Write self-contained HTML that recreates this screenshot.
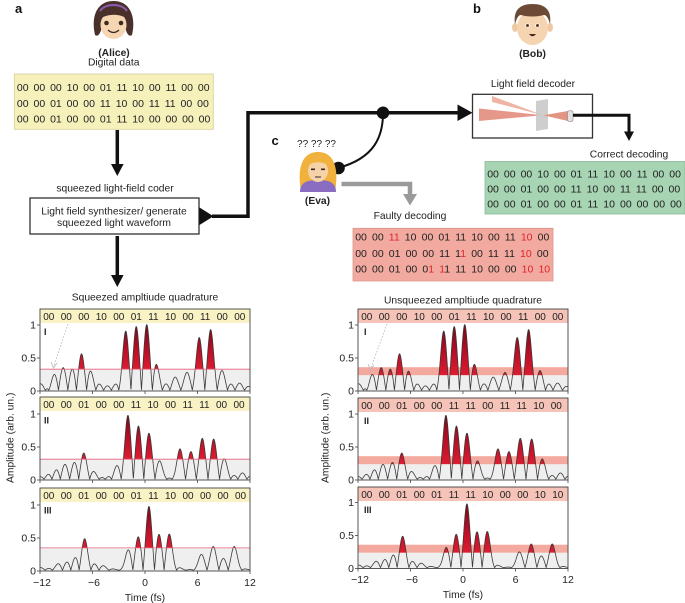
<!DOCTYPE html>
<html><head><meta charset="utf-8">
<style>
html,body{margin:0;padding:0;background:#fff;}
svg{display:block;font-family:"Liberation Sans",Arial,sans-serif;}
.t{font-size:10.3px;fill:#222;}
.d{font-size:10.5px;fill:#222;}
.s{font-size:10px;fill:#222;word-spacing:3.6px;}
.tk{font-size:10.5px;fill:#222;}
.b{font-weight:bold;}
</style></head>
<body>
<svg id="fig" width="685" height="603" viewBox="0 0 685 603" xmlns="http://www.w3.org/2000/svg">
<rect width="685" height="603" fill="#fff"/>

<!-- panel labels -->
<text x="15" y="13" font-size="13" font-weight="bold" fill="#111">a</text>
<text x="473" y="13" font-size="13" font-weight="bold" fill="#111">b</text>
<text x="271.5" y="145" font-size="13" font-weight="bold" fill="#111">c</text>

<!-- Alice -->
<path d="M95,35 C91,18 96,1 113.5,1 C131,1 136,18 132,35 C128,38 125,30 125,24 L102,24 C102,30 99,38 95,35Z" fill="#4a302a"/>
<ellipse cx="113.5" cy="25" rx="13" ry="14" fill="#f6d5b2"/>
<path d="M99,20 C100,8 127,8 128,20 C122,13 106,13 99,20Z" fill="#4a302a"/>
<path d="M100,11 C105,3 122,3 127,11" stroke="#8a5db0" stroke-width="2" fill="none"/>
<circle cx="106.5" cy="23" r="2.3" fill="#3a2a20"/>
<circle cx="121" cy="23" r="2.3" fill="#3a2a20"/>
<path d="M108,30 Q113.5,35 119,30" stroke="#3a2a20" stroke-width="1.3" fill="none"/>
<text x="114" y="56" class="t b" text-anchor="middle">(Alice)</text>
<text x="113.7" y="65.5" class="t" text-anchor="middle">Digital data</text>

<!-- Alice data box -->
<rect x="14.3" y="74" width="199" height="55.3" fill="#f6f0bb" stroke="#d6cf9a" stroke-width="0.8"/>
<text x="16.9" y="91" class="d" style="word-spacing:2px">00 00 00 10 00 01 11 10 00 11 00 00</text>
<text x="16.9" y="107" class="d" style="word-spacing:2px">00 00 01 00 00 11 10 00 11 11 00 00</text>
<text x="16.9" y="122.7" class="d" style="word-spacing:2px">00 00 01 00 00 01 11 10 00 00 00 00</text>

<!-- arrow down 1 -->
<line x1="117.3" y1="130" x2="117.3" y2="166" stroke="#111" stroke-width="3.5"/>
<polygon points="111,164 123.6,164 117.3,176" fill="#111"/>
<text x="115" y="191.5" class="t" text-anchor="middle">squeezed light-field coder</text>

<!-- coder box -->
<rect x="30" y="198" width="169" height="36" fill="#fff" stroke="#222" stroke-width="1.2"/>
<text x="114" y="214.5" class="t" text-anchor="middle">Light field synthesizer/ generate</text>
<text x="114" y="225.8" class="t" text-anchor="middle">squeezed light waveform</text>
<polygon points="199.5,207.5 199.5,225 213.5,216.2" fill="#111"/>

<!-- arrow down 2 -->
<line x1="117.3" y1="236" x2="117.3" y2="277" stroke="#111" stroke-width="3.5"/>
<polygon points="111,275 123.6,275 117.3,287" fill="#111"/>

<!-- main line -->
<path d="M212,216.2 L248,216.2 L248,112.8 L460,112.8" stroke="#111" stroke-width="3.5" fill="none" stroke-linejoin="miter"/>
<polygon points="457.5,104.5 472.5,112.8 457.5,121" fill="#111"/>
<path d="M383,113 C383,136 375,158 338,168" stroke="#111" stroke-width="2" fill="none"/>
<circle cx="383" cy="112.8" r="6.3" fill="#111"/>
<circle cx="338.5" cy="168" r="6.3" fill="#111"/>

<!-- Eva -->
<text x="316.5" y="147" font-size="10" fill="#222" text-anchor="middle">?? ?? ??</text>
<path d="M300.5,188 C298,172 300,152 318,152 C336,152 338,172 335.5,188Z" fill="#f0b23c"/>
<path d="M300,192 C300,183 306,180 318,180 C330,180 336,183 336,192Z" fill="#8a6cc0"/>
<ellipse cx="318" cy="171" rx="10" ry="11" fill="#f6d2a8"/>
<path d="M307,166 C309,157 327,157 329,166 C323,161 313,161 307,166Z" fill="#f0b23c"/>
<rect x="311" y="168.5" width="4" height="1.6" fill="#3a2a20"/>
<rect x="321" y="168.5" width="4" height="1.6" fill="#3a2a20"/>
<line x1="315" y1="177" x2="321" y2="177" stroke="#3a2a20" stroke-width="1"/>
<text x="317.5" y="204" class="t b" text-anchor="middle">(Eva)</text>

<!-- gray arrow -->
<path d="M341.5,184 L410,184 L410,196" stroke="#9a9a9a" stroke-width="4.5" fill="none"/>
<polygon points="403,194 417,194 410,205.5" fill="#9a9a9a"/>
<text x="410" y="219" class="t" text-anchor="middle">Faulty decoding</text>

<!-- faulty box -->
<rect x="353" y="228.3" width="200" height="52.7" fill="#f2aaa0" stroke="#d9958b" stroke-width="0.8"/>
<text x="355.2" y="240.6" class="d" style="word-spacing:2.2px">00 00 <tspan fill="#e0232e">11</tspan> 10 00 01 11 10 00 11 <tspan fill="#e0232e">10</tspan> 00</text>
<text x="355.2" y="257" class="d" style="word-spacing:2.2px">00 00 01 00 00 11 1<tspan fill="#e0232e">1</tspan> 00 11 11 <tspan fill="#e0232e">10</tspan> 00</text>
<text x="355.2" y="272.7" class="d" style="word-spacing:2.2px">00 00 01 00 0<tspan fill="#e0232e">1</tspan> <tspan fill="#e0232e">1</tspan>1 11 10 00 00 <tspan fill="#e0232e">10</tspan> <tspan fill="#e0232e">10</tspan></text>

<!-- Bob -->
<ellipse cx="515" cy="27.5" rx="3" ry="4.5" fill="#eec9a3"/>
<ellipse cx="550" cy="27.5" rx="3" ry="4.5" fill="#eec9a3"/>
<ellipse cx="532.5" cy="28" rx="15.5" ry="17" fill="#f4d4b1"/>
<path d="M515,24 C513,10 520,4 532.5,4 C545,4 552,10 550,24 C548,17 546,15 544,15 C537,17 527,17 521,15 C519,15 517,17 515,24Z" fill="#6d4a35"/>
<ellipse cx="527.5" cy="25.5" rx="2.4" ry="2" fill="#fff"/>
<ellipse cx="537.5" cy="25.5" rx="2.4" ry="2" fill="#fff"/>
<circle cx="527.5" cy="25.5" r="1.5" fill="#5a3a24"/>
<circle cx="537.5" cy="25.5" r="1.5" fill="#5a3a24"/>
<path d="M529,34 Q532.5,38.5 536,34Z" fill="#4a2a20"/>
<text x="532.5" y="57" class="t b" text-anchor="middle">(Bob)</text>

<!-- decoder -->
<text x="533" y="87" class="t" text-anchor="middle">Light field decoder</text>
<rect x="472.5" y="94.3" width="120" height="43.7" fill="#fff" stroke="#333" stroke-width="1.3"/>
<polygon points="492,96 492,102 543,115.2" fill="#eeb5a5"/>
<polygon points="479,108.5 479,121 543,115.2" fill="#e5988a"/>
<polygon points="536,101 548,99 548,129 536,131" fill="#c6c6c6" opacity="0.85"/>
<polygon points="543,115.2 568,111 568,121" fill="#e39482"/>
<rect x="567.5" y="110.8" width="5.5" height="10.5" rx="1.5" fill="#e2e2e2" stroke="#888" stroke-width="0.6"/>
<path d="M573,115.2 L629,115.2 L629,133" stroke="#111" stroke-width="3" fill="none"/>
<polygon points="624,131.5 634,131.5 629,141" fill="#111"/>
<text x="629" y="157.5" class="t" text-anchor="middle">Correct decoding</text>

<!-- green box -->
<rect x="485" y="161.5" width="200" height="52.5" fill="#a7d4b3" stroke="#88b996" stroke-width="0.8"/>
<text x="487.2" y="177.6" class="d" style="word-spacing:2.1px">00 00 00 10 00 01 11 10 00 11 00 00</text>
<text x="487.2" y="192.5" class="d" style="word-spacing:2.1px">00 00 01 00 00 11 10 00 11 11 00 00</text>
<text x="487.2" y="207.6" class="d" style="word-spacing:2.1px">00 00 01 00 00 01 11 10 00 00 00 00</text>

<!-- plot titles -->
<text x="145" y="300.4" class="t" text-anchor="middle">Squeezed ampltiude quadrature</text>
<text x="463" y="303.5" class="t" text-anchor="middle">Unsqueezed ampltiude quadrature</text>

<!-- ===== backgrounds ===== -->
<rect x="40" y="309" width="210" height="82" fill="#fff"/>
<rect x="40" y="369.2" width="210" height="21.8" fill="#efefef"/>
<rect x="40" y="397" width="210" height="83" fill="#fff"/>
<rect x="40" y="459.2" width="210" height="20.8" fill="#efefef"/>
<rect x="40" y="488" width="210" height="83" fill="#fff"/>
<rect x="40" y="547.9" width="210" height="23.1" fill="#efefef"/>
<rect x="358" y="309" width="210" height="82" fill="#fff"/>
<rect x="358" y="375.2" width="210" height="15.8" fill="#efefef"/>
<rect x="358" y="367.2" width="210" height="8" fill="#f4a99e"/>
<rect x="358" y="398" width="210" height="82" fill="#fff"/>
<rect x="358" y="464.2" width="210" height="15.8" fill="#efefef"/>
<rect x="358" y="456.2" width="210" height="8" fill="#f4a99e"/>
<rect x="358" y="487" width="210" height="81.5" fill="#fff"/>
<rect x="358" y="552.7" width="210" height="15.8" fill="#efefef"/>
<rect x="358" y="544.7" width="210" height="8" fill="#f4a99e"/>

<g id="plots"></g>

<!-- threshold lines left -->
<line x1="40" y1="369.2" x2="250" y2="369.2" stroke="#e8607a" stroke-width="0.8"/>
<line x1="40" y1="459.2" x2="250" y2="459.2" stroke="#e8607a" stroke-width="0.8"/>
<line x1="40" y1="547.9" x2="250" y2="547.9" stroke="#e8607a" stroke-width="0.8"/>

<!-- strips left -->
<rect x="40" y="309" width="210" height="14" fill="#f8f2c4"/>
<rect x="40" y="397" width="210" height="14" fill="#f8f2c4"/>
<rect x="40" y="488" width="210" height="14" fill="#f8f2c4"/>
<text x="43.2" y="320" class="s">00 00 00 10 00 01 11 10 00 11 00 00</text>
<text x="43.2" y="408" class="s">00 00 01 00 00 11 10 00 11 11 00 00</text>
<text x="43.2" y="499" class="s">00 00 01 00 00 01 11 10 00 00 00 00</text>
<!-- strips right -->
<rect x="358" y="309" width="210" height="14" fill="#f5c3b8"/>
<rect x="358" y="398" width="210" height="14" fill="#f5c3b8"/>
<rect x="358" y="487" width="210" height="14" fill="#f5c3b8"/>
<text x="361.2" y="320" class="s">00 00 00 10 00 01 11 10 00 11 00 00</text>
<text x="361.2" y="409" class="s">00 00 01 00 00 11 11 00 11 11 10 00</text>
<text x="361.2" y="498" class="s">00 00 01 00 01 11 11 10 00 00 10 10</text>

<!-- frames -->
<g fill="none" stroke="#444" stroke-width="0.9">
<rect x="40" y="309" width="210" height="82"/>
<rect x="40" y="397" width="210" height="83"/>
<rect x="40" y="488" width="210" height="83"/>
<rect x="358" y="309" width="210" height="82"/>
<rect x="358" y="398" width="210" height="82"/>
<rect x="358" y="487" width="210" height="81.5"/>
</g>

<!-- numerals -->
<g font-size="9" font-weight="bold" fill="#222">
<text x="44" y="335">I</text>
<text x="44" y="423.5">II</text>
<text x="44" y="513.5">III</text>
<text x="364" y="335">I</text>
<text x="364" y="424">II</text>
<text x="364" y="513">III</text>
</g>

<!-- dashed arrows -->
<g stroke="#b8b8b8" stroke-width="0.8" fill="none">
<line x1="68" y1="324" x2="53.5" y2="367" stroke-dasharray="1.6,1.6"/>
<polyline points="51,362 53.5,368 57,363"/>
<line x1="387" y1="324" x2="370.5" y2="369" stroke-dasharray="1.6,1.6"/>
<polyline points="368,364 370.5,370 374,365"/>
</g>

<!-- y ticks & labels -->
<g stroke="#444" stroke-width="0.8">
<line x1="37" y1="325" x2="40" y2="325"/><line x1="37" y1="358" x2="40" y2="358"/><line x1="37" y1="391" x2="40" y2="391"/>
<line x1="37" y1="414" x2="40" y2="414"/><line x1="37" y1="447" x2="40" y2="447"/><line x1="37" y1="480" x2="40" y2="480"/>
<line x1="37" y1="505" x2="40" y2="505"/><line x1="37" y1="538" x2="40" y2="538"/><line x1="37" y1="571" x2="40" y2="571"/>
<line x1="355" y1="325" x2="358" y2="325"/><line x1="355" y1="358" x2="358" y2="358"/><line x1="355" y1="391" x2="358" y2="391"/>
<line x1="355" y1="414" x2="358" y2="414"/><line x1="355" y1="447" x2="358" y2="447"/><line x1="355" y1="480" x2="358" y2="480"/>
<line x1="355" y1="502.5" x2="358" y2="502.5"/><line x1="355" y1="535.5" x2="358" y2="535.5"/><line x1="355" y1="568.5" x2="358" y2="568.5"/>
</g>
<g class="tk" text-anchor="end">
<text x="36" y="328.7" class="tk">1</text><text x="36" y="361.7" class="tk">0.5</text><text x="36" y="394.7" class="tk">0</text>
<text x="36" y="417.7" class="tk">1</text><text x="36" y="450.7" class="tk">0.5</text><text x="36" y="483.7" class="tk">0</text>
<text x="36" y="508.7" class="tk">1</text><text x="36" y="541.7" class="tk">0.5</text><text x="36" y="574.7" class="tk">0</text>
<text x="354" y="328.7" class="tk">1</text><text x="354" y="361.7" class="tk">0.5</text><text x="354" y="394.7" class="tk">0</text>
<text x="354" y="417.7" class="tk">1</text><text x="354" y="450.7" class="tk">0.5</text><text x="354" y="483.7" class="tk">0</text>
<text x="354" y="506.2" class="tk">1</text><text x="354" y="539.2" class="tk">0.5</text><text x="354" y="572.2" class="tk">0</text>
</g>

<!-- x ticks -->
<g stroke="#444" stroke-width="0.8">
<line x1="40" y1="391" x2="40" y2="394"/><line x1="92.5" y1="391" x2="92.5" y2="394"/><line x1="145" y1="391" x2="145" y2="394"/><line x1="197.5" y1="391" x2="197.5" y2="394"/><line x1="250" y1="391" x2="250" y2="394"/>
<line x1="40" y1="480" x2="40" y2="483"/><line x1="92.5" y1="480" x2="92.5" y2="483"/><line x1="145" y1="480" x2="145" y2="483"/><line x1="197.5" y1="480" x2="197.5" y2="483"/><line x1="250" y1="480" x2="250" y2="483"/>
<line x1="40" y1="571" x2="40" y2="574"/><line x1="92.5" y1="571" x2="92.5" y2="574"/><line x1="145" y1="571" x2="145" y2="574"/><line x1="197.5" y1="571" x2="197.5" y2="574"/><line x1="250" y1="571" x2="250" y2="574"/>
<line x1="358" y1="391" x2="358" y2="394"/><line x1="410.5" y1="391" x2="410.5" y2="394"/><line x1="463" y1="391" x2="463" y2="394"/><line x1="515.5" y1="391" x2="515.5" y2="394"/><line x1="568" y1="391" x2="568" y2="394"/>
<line x1="358" y1="480" x2="358" y2="483"/><line x1="410.5" y1="480" x2="410.5" y2="483"/><line x1="463" y1="480" x2="463" y2="483"/><line x1="515.5" y1="480" x2="515.5" y2="483"/><line x1="568" y1="480" x2="568" y2="483"/>
<line x1="358" y1="568.5" x2="358" y2="571.5"/><line x1="410.5" y1="568.5" x2="410.5" y2="571.5"/><line x1="463" y1="568.5" x2="463" y2="571.5"/><line x1="515.5" y1="568.5" x2="515.5" y2="571.5"/><line x1="568" y1="568.5" x2="568" y2="571.5"/>
</g>
<g text-anchor="middle">
<text x="42" y="586" class="tk">−12</text><text x="94" y="586" class="tk">−6</text><text x="145" y="586" class="tk">0</text><text x="197.5" y="586" class="tk">6</text><text x="250" y="586" class="tk">12</text>
<text x="360" y="583" class="tk">−12</text><text x="412" y="583" class="tk">−6</text><text x="463" y="583" class="tk">0</text><text x="515.5" y="583" class="tk">6</text><text x="568" y="583" class="tk">12</text>
<text x="145" y="601" class="t">Time (fs)</text>
<text x="463" y="598" class="t">Time (fs)</text>
</g>
<text transform="translate(13.5,483) rotate(-90)" class="t">Amplitude (arb. un.)</text>
<text transform="translate(328.5,483) rotate(-90)" class="t">Amplitude (arb. un.)</text>
</svg>
<script>
(function(){
var NS='http://www.w3.org/2000/svg';
var g=document.getElementById('plots');
function mk(tag,a,p){var e=document.createElementNS(NS,tag);for(var k in a)e.setAttribute(k,a[k]);(p||g).appendChild(e);return e;}
var P={
I:[[-11.9,0.1],[-11.1,0.05],[-10.35,0.25],[-9.35,0.35],[-8.3,0.33],[-7.25,0.56],[-6.25,0.3],[-5.25,0.1],[-4.3,0.07],[-3.3,0.1],[-2.2,0.9],[-1.0,0.97],[0.2,1.0],[1.28,0.4],[2.4,0.1],[3.45,0.2],[4.8,0.27],[6.2,0.8],[7.5,0.92],[8.8,0.3],[9.8,0.1],[10.8,0.11],[11.8,0.06]],
II:[[-11.9,0.04],[-11.0,0.08],[-10.1,0.15],[-9.15,0.23],[-8.05,0.26],[-7.0,0.4],[-5.9,0.12],[-4.9,0.03],[-4.05,0.05],[-3.2,0.21],[-1.95,0.97],[-0.75,0.81],[0.45,0.7],[1.65,0.28],[2.8,0.02],[4.0,0.46],[5.25,0.42],[6.55,0.62],[7.85,0.61],[9.05,0.31],[10.2,0.06],[11.15,0.1],[11.95,0.05]],
III:[[-11.9,0.04],[-11.0,0.03],[-9.9,0.1],[-8.9,0.13],[-7.95,0.2],[-6.9,0.48],[-5.8,0.1],[-4.8,0.07],[-3.7,0.02],[-1.9,0.31],[-0.77,0.51],[0.45,0.97],[1.6,0.55],[2.77,0.55],[3.9,0.04],[5.2,0.01],[6.45,0.24],[7.8,0.36],[8.95,0.18],[10.2,0.36],[11.4,0.02]]
};
function val(t,pk){var s=0;for(var i=0;i<pk.length;i++){var d=t-pk[i][0];s+=(i%2?-1:1)*pk[i][1]*Math.exp(-d*d/0.245);}return Math.abs(s)+0.012;}
var panels=[
{X0:145,zero:391,pk:'I',thr:0.33},
{X0:145,zero:480,pk:'II',thr:0.315},
{X0:145,zero:571,pk:'III',thr:0.35},
{X0:463,zero:391,pk:'I',thr:0.24},
{X0:463,zero:480,pk:'II',thr:0.24},
{X0:463,zero:568.5,pk:'III',thr:0.24}
];
panels.forEach(function(p,idx){
  var pk=P[p.pk],pts=[];
  for(var t=-12;t<=12.0001;t+=0.02){
    var x=p.X0+8.75*t,y=p.zero-66*val(t,pk);
    pts.push(x.toFixed(2)+','+y.toFixed(2));
  }
  var d='M'+pts.join('L');
  var area=d+'L'+(p.X0+105)+','+p.zero+'L'+(p.X0-105)+','+p.zero+'Z';
  var cid='clp'+idx,gid='grd'+idx;
  var cp=mk('clipPath',{id:cid});
  var ty=p.zero-66*p.thr;
  mk('rect',{x:p.X0-105,y:p.zero-90,width:210,height:ty-(p.zero-90)},cp);
  var lg=mk('linearGradient',{id:gid,gradientUnits:'userSpaceOnUse',x1:0,y1:p.zero-66,x2:0,y2:ty});
  mk('stop',{offset:'0','stop-color':'#7a0616'},lg);
  mk('stop',{offset:'0.55','stop-color':'#b80f26'},lg);
  mk('stop',{offset:'1','stop-color':'#dc1c31'},lg);
  mk('path',{d:area,fill:'url(#'+gid+')','clip-path':'url(#'+cid+')'});
  mk('path',{d:d,fill:'none',stroke:'#3a3a3a','stroke-width':'0.8','stroke-linejoin':'round'});
});
})();
</script>
</body></html>
